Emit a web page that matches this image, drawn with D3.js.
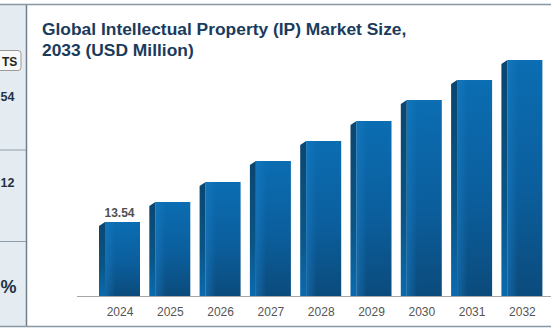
<!DOCTYPE html>
<html>
<head>
<meta charset="utf-8">
<script src="https://cdn.jsdelivr.net/npm/d3@7"></script>
<style>
  html, body { margin: 0; padding: 0; background: #ffffff; }
  svg { display: block; font-family: "Liberation Sans", Arial, sans-serif; }
</style>
</head>
<body>
<svg id="chart" width="551" height="331"></svg>
<script>
// Market size by year (USD Million)
const years = [2024, 2025, 2026, 2027, 2028, 2029, 2030, 2031, 2032];
const values = [13.54, 17.20, 20.86, 24.70, 28.36, 32.02, 35.86, 39.52, 43.18];
const labelledYears = [2024];
const titleLines = ["Global Intellectual Property (IP) Market Size,", "2033 (USD Million)"];
// Side-panel highlights (the panel is mostly out of view)
const sideBadge = "TS";
const sideStats = ["54", "12", "%"];

const svg = d3.select("#chart");
const W = 551, H = 331;

// ---- side panel ----
const panel = svg.append("g");
panel.append("rect").attr("x", 0).attr("y", 5).attr("width", 26.5).attr("height", 321)
  .attr("fill", "#e5ecf1");
panel.append("line").attr("x1", 26.5).attr("x2", 26.5).attr("y1", 5).attr("y2", 326)
  .attr("stroke", "#6f7e8a").attr("stroke-width", 1.5);
[150, 241.5].forEach(y => panel.append("line")
  .attr("x1", 0).attr("x2", 26).attr("y1", y).attr("y2", y)
  .attr("stroke", "#8d9ca7").attr("stroke-width", 1));
panel.append("rect").attr("x", -80).attr("y", 50.5).attr("width", 101).attr("height", 20)
  .attr("rx", 3).attr("fill", "#f7f7f7").attr("stroke", "#9a9a9a");
panel.append("text").attr("x", 2).attr("y", 65.5)
  .attr("font-size", 12).attr("font-weight", "bold").attr("fill", "#222")
  .text(sideBadge);
const statPos = [{ y: 101, fs: 12.5 }, { y: 186.5, fs: 12.5 }, { y: 293, fs: 18 }];
sideStats.forEach((s, i) => panel.append("text")
  .attr("x", 0.5).attr("y", statPos[i].y)
  .attr("font-size", statPos[i].fs).attr("font-weight", "bold").attr("fill", "#1d3246")
  .text(s));

// ---- frame lines ----
svg.append("line").attr("x1", 0).attr("x2", W).attr("y1", 4.5).attr("y2", 4.5)
  .attr("stroke", "#8797a3").attr("stroke-width", 1.5);
svg.append("line").attr("x1", 0).attr("x2", W).attr("y1", 326.5).attr("y2", 326.5)
  .attr("stroke", "#8797a3").attr("stroke-width", 1.5);

// ---- title ----
const title = svg.append("text").attr("x", 42).attr("font-size", 17.4)
  .attr("font-weight", "bold").attr("fill", "#1a3b5b");
titleLines.forEach((t, i) => title.append("tspan").attr("x", 42).attr("y", 35 + i * 20.8).text(t));

// ---- scales ----
const baseY = 296;
const x = d3.scalePoint().domain(years).range([119.5, 119.5 + 50.3 * (years.length - 1)]);
const y = d3.scaleLinear().domain([0, 50]).range([baseY, baseY - 50 * 74 / 13.54]);

const barW = 41, sideW = 6, slant = 4;

// ---- gradients ----
const defs = svg.append("defs");
const front = defs.append("linearGradient").attr("id", "frontGrad")
  .attr("x1", 0).attr("y1", 0).attr("x2", 0).attr("y2", 1);
front.append("stop").attr("offset", "0%").attr("stop-color", "#0b6db2");
front.append("stop").attr("offset", "55%").attr("stop-color", "#0b5e9c");
front.append("stop").attr("offset", "100%").attr("stop-color", "#0b4b7c");
const frontHi = defs.append("linearGradient").attr("id", "frontHi")
  .attr("x1", 0).attr("y1", 0).attr("x2", 1).attr("y2", 0);
frontHi.append("stop").attr("offset", "0%").attr("stop-color", "#1a7cc4").attr("stop-opacity", 0.55);
frontHi.append("stop").attr("offset", "30%").attr("stop-color", "#1a7cc4").attr("stop-opacity", 0);
frontHi.append("stop").attr("offset", "100%").attr("stop-color", "#1a7cc4").attr("stop-opacity", 0);
const side = defs.append("linearGradient").attr("id", "sideGrad")
  .attr("x1", 0).attr("y1", 0).attr("x2", 0).attr("y2", 1);
side.append("stop").attr("offset", "0%").attr("stop-color", "#0a4670");
side.append("stop").attr("offset", "60%").attr("stop-color", "#0a5586");
side.append("stop").attr("offset", "100%").attr("stop-color", "#0a6aae");

// ---- axis ----
svg.append("line").attr("x1", 77).attr("x2", W).attr("y1", baseY + 0.5).attr("y2", baseY + 0.5)
  .attr("stroke", "#a6a6a6").attr("stroke-width", 1);

const xAxis = svg.append("g").attr("transform", `translate(0,${baseY})`)
  .call(d3.axisBottom(x).tickSize(0).tickPadding(11).tickFormat(d3.format("d")));
xAxis.select(".domain").remove();
xAxis.selectAll("text").attr("font-size", 12).attr("fill", "#555")
  .attr("font-family", "Liberation Sans, Arial, sans-serif");

// ---- bars ----
const data = years.map((yr, i) => ({ yr, v: values[i] }));
const bars = svg.append("g").selectAll("g").data(data).join("g");

bars.append("path")
  .attr("d", d => {
    const l = x(d.yr) - barW / 2, t = y(d.v);
    return `M${l},${baseY}L${l},${t + slant}L${l + sideW},${t}L${l + sideW},${baseY}Z`;
  })
  .attr("fill", "url(#sideGrad)");
bars.append("rect")
  .attr("x", d => x(d.yr) - barW / 2 + sideW)
  .attr("y", d => y(d.v))
  .attr("width", barW - sideW)
  .attr("height", d => baseY - y(d.v))
  .attr("fill", "url(#frontGrad)");
bars.append("rect")
  .attr("x", d => x(d.yr) - barW / 2 + sideW)
  .attr("y", d => y(d.v))
  .attr("width", barW - sideW)
  .attr("height", d => baseY - y(d.v))
  .attr("fill", "url(#frontHi)");

// ---- value label ----
svg.append("g").selectAll("text").data(data.filter(d => labelledYears.includes(d.yr))).join("text")
  .attr("x", d => x(d.yr))
  .attr("y", d => y(d.v) - 5)
  .attr("text-anchor", "middle")
  .attr("font-size", 12).attr("font-weight", "bold").attr("fill", "#505050")
  .text(d => d3.format(".2f")(d.v));
</script>
</body>
</html>
